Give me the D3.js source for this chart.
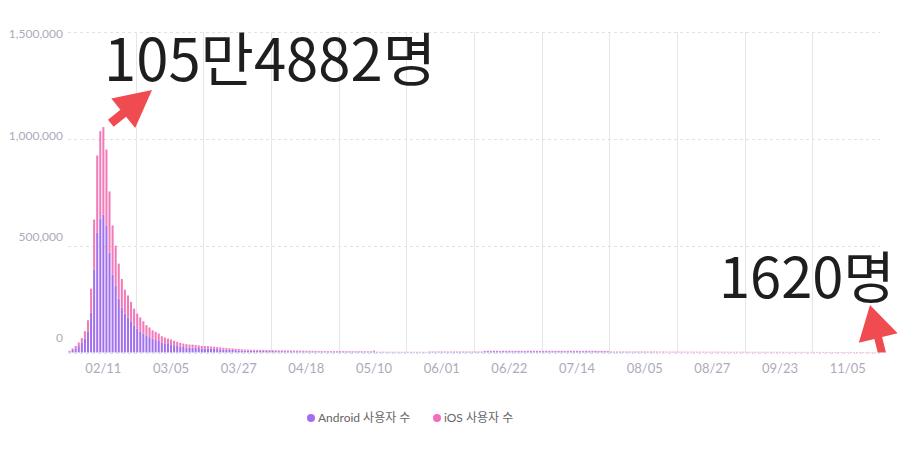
<!DOCTYPE html>
<html>
<head>
<meta charset="utf-8">
<script src="https://cdn.jsdelivr.net/npm/d3@7"></script>
<style>
  html, body { margin: 0; padding: 0; background: #fff; }
  svg { display: block; }
</style>
</head>
<body>
<svg id="chart" width="900" height="450"></svg>
<script>
// ---------- DATA ----------
const seriesNames = ["Android 사용자 수", "iOS 사용자 수"];
const seriesColors = ["#a270ee", "#f27ab9"];
const legendColors = ["#a66cf2", "#f46cbd"];
const yTicks = [0, 500000, 1000000, 1500000];
const xTickLabels = ["02/11","03/05","03/27","04/18","05/10","06/01","06/22","07/14","08/05","08/27","09/23","11/05"];

const android = [
  5000,12000,20000,30000,45000,65000,97000,186000,387000,560000,
  628000,645000,592000,468000,364000,312000,252000,210000,182000,163000,
  143000,127000,112000,97000,89000,80000,72000,64000,59000,54000,
  47000,43000,40000,38000,34000,31000,28000,26000,24000,23000,
  23000,22000,21000,19000,19000,19000,18000,17000,16000,15000,
  14000,13000,13000,12000,11000,10000,9500,9000,8500,8200,
  8200,8000,8000,7600,7300,7000,7000,6700,6400,6400,
  6200,6000,6000,5900,5800,5600,5400,5300,5100,5100,
  5000,
  4700,4600,4600,4500,4400,4400,4300,4200,4200,4100,4000,4000,3900,3900,3800,3800,3700,3700,
  5500,
  2300,2200,2200,2100,2200,2100,2000,2100,2000,2000,1900,2000,1900,1900,2000,1900,1800,
  3000,3100,2900,3050,2950,3000,3100,2900,3000,2950,3050,2900,3000,3100,2950,2900,3000,3050,
  6000,6200,5900,6300,6100,5800,6400,6000,6200,5900,
  6100,6300,5800,6000,6200,6100,5900,6300,6000,5800,
  6200,6100,5900,6000,6300,6100,5800,6000,6200,5900,
  6100,6000,5800,6200,5900,6000,6100,5800,5900,5700,
  5600,
  2600,2500,2550,2450,2400,2500,2350,2300,2400,2250,2200,2300,2150,2100,2000,
  1300,1250,1280,1220,1200,1240,1180,1150,1190,1160,
  1120,1100,1140,1090,1080,1110,1060,1040,1070,1020,
  1000,1030,990,970,1000,960,940,970,930,910,
  940,900,880,910,870,850,880,840,820,850,
  810,790,820,780,760,790,750,730,760,720,
  700,730,690,670,700,660,640,670,630,610,
  640,600,580,610,570,550,580,540,520,550,
  500,470,420
];

const ios = [
  3000,7000,11000,17000,22000,35000,54000,113000,235000,362000,
  408000,409882,358000,286000,231000,188000,164000,134000,112000,104000,
  94000,78000,70000,67000,57000,48000,45000,40000,38000,35000,
  29000,27000,25000,23000,21000,19000,17000,16000,15000,14000,
  14000,13000,12000,12000,11000,11000,10000,10000,9000,9000,
  8000,8000,7000,7000,6000,6000,5500,5000,5000,4800,
  4800,4500,4500,4400,4200,4000,4000,3800,3600,3600,
  3600,3500,3300,3400,3200,3200,3100,3000,2900,2900,
  2800,
  2800,2800,2700,2700,2700,2600,2600,2600,2500,2500,2500,2400,2400,2400,2300,2300,2300,2300,
  3500,
  1400,1300,1400,1300,1300,1300,1300,1200,1300,1200,1200,1200,1200,1200,1100,1200,1100,
  1700,1650,1750,1700,1800,1650,1700,1750,1700,1650,1700,1800,1700,1650,1750,1700,1650,1700,
  1900,2100,2000,1800,2200,2000,1900,2100,2000,1800,
  2000,1900,2100,2000,1800,2200,2000,1900,2000,2100,
  1900,2000,2100,1800,2000,1900,2200,2000,1900,2100,
  2000,1800,2100,2000,1900,2000,2100,1900,2000,2100,
  2000,
  2100,2200,2150,2250,2200,2150,2300,2250,2200,2300,2350,2250,2400,2350,2500,
  2900,2850,2950,2800,2780,2880,2750,2700,2820,2680,
  2650,2720,2600,2580,2660,2540,2520,2600,2480,2460,
  2540,2420,2400,2480,2380,2350,2430,2320,2300,2380,
  2280,2250,2330,2220,2200,2280,2170,2150,2230,2120,
  2100,2180,2070,2050,2120,2020,2000,2080,1980,1950,
  2020,1920,1900,1970,1880,1850,1920,1830,1800,1870,
  1780,1750,1820,1730,1700,1760,1680,1650,1710,1620,
  1500,1400,1200
];

// categories: one per daily record (date keys)
const startDate = new Date(2021, 0, 31);
const categories = d3.timeDay.range(startDate, d3.timeDay.offset(startDate, android.length))
  .map(d => d3.timeFormat("%Y-%m-%d")(d));
const labelEvery = 22;
const labelStart = 11;

const annotationTexts = ["105만4882명", "1620명"];

// ---------- CHART ----------
const svg = d3.select("#chart");
const W = 900, H = 450;
const plotLeft = 68, plotRight = 880, plotTop = 32, plotBottom = 352.5;

const x = d3.scaleBand().domain(categories).range([plotLeft, plotRight]).paddingInner(0.34).paddingOuter(0.17);
const y = d3.scaleLinear().domain([0, 1500000]).range([plotBottom, plotTop]);
const yLabelPos = d3.scaleLinear().domain([0, 1500000]).range([338, 34]);

const fontLatin = "Lato, 'Noto Sans CJK KR', sans-serif";

// horizontal dashed gridlines
svg.append("g").selectAll("line").data(yTicks).join("line")
  .attr("x1", plotLeft).attr("x2", plotRight)
  .attr("y1", d => Math.round(y(d)) + 0.5).attr("y2", d => Math.round(y(d)) + 0.5)
  .attr("stroke", "#e2e2e2").attr("stroke-dasharray", "3,3").attr("stroke-width", 1);

// vertical split lines between label groups
const splitIdx = d3.range(labelEvery, categories.length, labelEvery);
const splitX = i => Math.round(x(categories[i]) - x.step() * x.paddingInner() / 2) + 0.5;
svg.append("g").selectAll("line").data(splitIdx).join("line")
  .attr("x1", splitX).attr("x2", splitX)
  .attr("y1", plotTop).attr("y2", plotBottom)
  .attr("stroke", "#e6e6e8").attr("stroke-width", 1);

// y labels
svg.append("g").selectAll("text").data(yTicks).join("text")
  .attr("x", 63).attr("y", d => yLabelPos(d))
  .attr("dy", "0.35em")
  .attr("text-anchor", "end")
  .attr("font-family", fontLatin).attr("font-size", 12)
  .attr("fill", "#aeaabb")
  .text(d => d3.format(",")(d));

// x labels
const labelIdx = xTickLabels.map((_, k) => labelStart + k * labelEvery);
svg.append("g").selectAll("text").data(xTickLabels).join("text")
  .attr("x", (d, k) => x(categories[labelIdx[k]]) + x.bandwidth() / 2)
  .attr("y", 368).attr("dy", "0.35em")
  .attr("text-anchor", "middle")
  .attr("font-family", fontLatin).attr("font-size", 13)
  .attr("fill", "#aeaabb")
  .text(d => d);

// stacked bars
const table = categories.map((c, i) => ({ cat: c, a: android[i], i: ios[i] }));
const stack = d3.stack().keys(["a", "i"])(table);
svg.append("g").selectAll("g").data(stack).join("g")
  .attr("fill", (d, k) => seriesColors[k])
  .selectAll("rect").data(d => d).join("rect")
  .attr("x", d => x(d.data.cat))
  .attr("width", x.bandwidth())
  .attr("y", d => y(d[1]))
  .attr("height", d => Math.max(0, y(d[0]) - y(d[1])));

// legend
const legend = svg.append("g");
const legendPos = [311, 437];
seriesNames.forEach((name, k) => {
  legend.append("circle").attr("cx", legendPos[k]).attr("cy", 418).attr("r", 4).attr("fill", legendColors[k]);
  legend.append("text").attr("x", legendPos[k] + 7).attr("y", 418).attr("dy", "0.35em")
    .attr("font-family", fontLatin).attr("font-size", 12).attr("fill", "#666")
    .text(name);
});

// annotations (arrows + big text)
function arrowPath(headLen, headW, totalLen, shaftW) {
  return `M0,0 L${-headLen},${-headW/2} L${-headLen},${-shaftW/2} L${-totalLen},${-shaftW/2} ` +
         `L${-totalLen},${shaftW/2} L${-headLen},${shaftW/2} L${-headLen},${headW/2} Z`;
}
svg.append("clipPath").attr("id", "clipArea").append("rect")
  .attr("x", 0).attr("y", 0).attr("width", W).attr("height", plotBottom);
svg.append("path")
  .attr("d", arrowPath(37, 38, 53, 9))
  .attr("transform", "translate(152,90) rotate(-39)")
  .attr("fill", "#ef4b50");
svg.append("g").attr("clip-path", "url(#clipArea)").append("path")
  .attr("d", arrowPath(34, 40, 60, 8))
  .attr("transform", "translate(870,305) rotate(-104)")
  .attr("fill", "#ef4b50");

svg.append("text").attr("x", 104).attr("y", 81)
  .attr("font-family", "'Noto Sans CJK KR', sans-serif").attr("font-size", 58)
  .attr("fill", "#1e1e1e").text(annotationTexts[0]);
svg.append("text").attr("x", 719).attr("y", 298)
  .attr("font-family", "'Noto Sans CJK KR', sans-serif").attr("font-size", 56)
  .attr("fill", "#1e1e1e").text(annotationTexts[1]);
</script>
</body>
</html>
